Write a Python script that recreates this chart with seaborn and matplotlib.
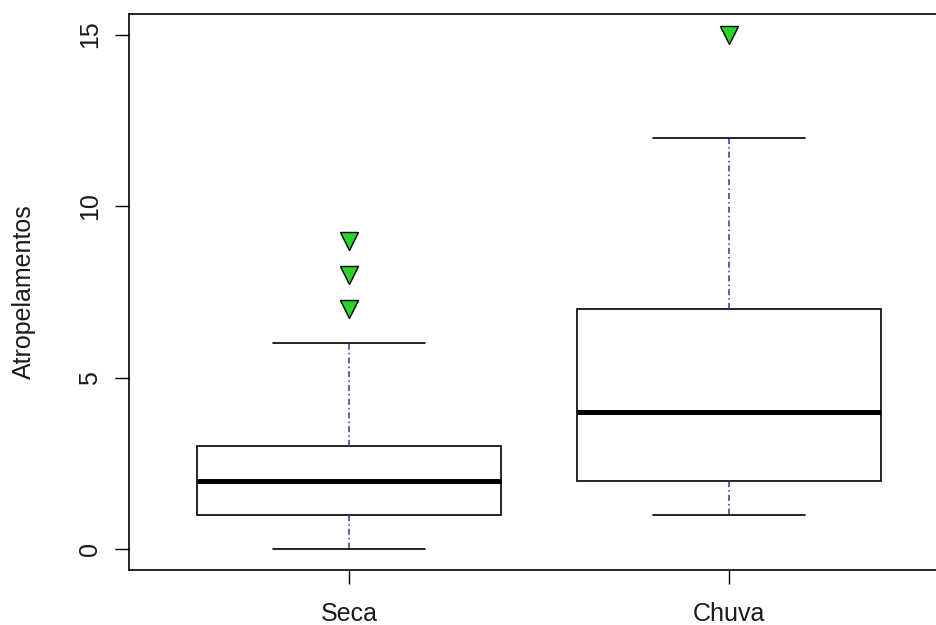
import pandas as pd
import numpy as np
import seaborn as sns
import matplotlib.pyplot as plt

# raw counts per season, chosen so the quartiles match the figure
seca = [0, 0, 0, 1, 1, 1, 1, 1, 2, 2, 2, 2, 2, 2, 3, 3, 3, 3, 3, 4, 5, 6, 7, 8, 9]
chuva = [1, 1, 1, 2, 2, 2, 2, 3, 3, 3, 4, 4, 4, 5, 5, 6, 6, 7, 7, 8, 9, 10, 11, 12, 15]
categorias = ["Seca", "Chuva"]
yticks = [0, 5, 10, 15]

df = pd.DataFrame({
    "estacao": ["Seca"] * len(seca) + ["Chuva"] * len(chuva),
    "Atropelamentos": seca + chuva,
})

sns.set_style("ticks")
plt.rcParams["font.family"] = ["Liberation Sans", "DejaVu Sans"]
plt.rcParams["text.color"] = "#1a1a1a"
plt.rcParams["axes.labelcolor"] = "#1a1a1a"
plt.rcParams["xtick.labelcolor"] = "#1a1a1a"
plt.rcParams["ytick.labelcolor"] = "#1a1a1a"

fig = plt.figure(figsize=(9.36, 6.25), dpi=100)
ax = fig.add_axes([0.1374, 0.088, 0.877, 0.8896])

sns.boxplot(data=df, x="estacao", y="Atropelamentos", order=categorias, ax=ax,
            color="white", linecolor="black", linewidth=1.2, width=0.8,
            whiskerprops=dict(color="#34349a", linestyle=(0, (4, 2, 1, 2)), linewidth=1.1),
            capprops=dict(color="black", linewidth=1.2),
            medianprops=dict(color="black", linewidth=3.6),
            flierprops=dict(marker="v", markerfacecolor="#2ad42a", markeredgecolor="black",
                            markersize=13, markeredgewidth=1.0))

ax.set_xlim(-0.58, 1.58)
ax.set_ylim(-0.6, 15.6)
ax.set_yticks(yticks)
ax.set_xlabel("")
ax.set_ylabel("Atropelamentos", fontsize=18)
ax.yaxis.set_label_coords(-0.113, 0.5)
for s in ax.spines.values():
    s.set_visible(True)
    s.set_color("black")
    s.set_linewidth(1.2)
ax.tick_params(axis="both", length=10, width=1.0, labelsize=18, color="black")
ax.tick_params(axis="y", pad=9)
ax.tick_params(axis="x", pad=13)
for lab in ax.get_yticklabels():
    lab.set_rotation(90)
    lab.set_va("center")

fig.savefig("out.png", dpi=100)
